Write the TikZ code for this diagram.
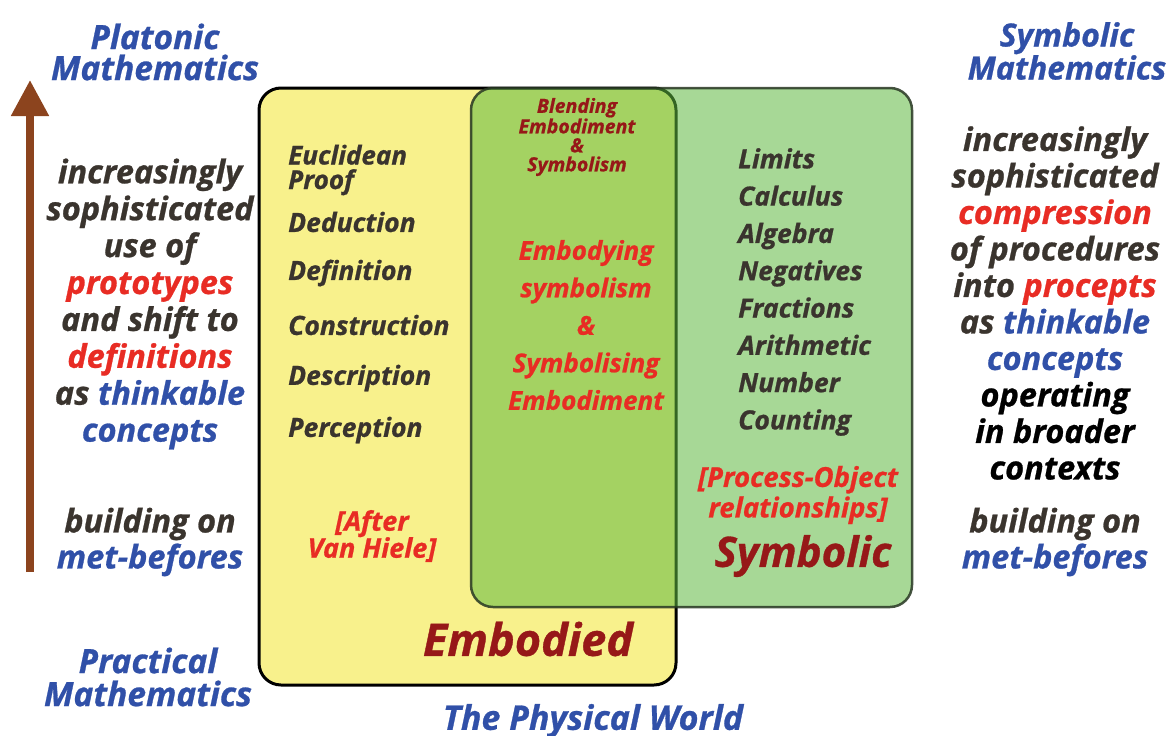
\documentclass[tikz,border=0pt]{standalone}
\usepackage{fontspec}
\setmainfont{Open Sans}[BoldItalicFeatures={FakeBold=0.8}]
\usetikzlibrary{arrows.meta}
\definecolor{txtgray}{RGB}{58,52,46}
\definecolor{txtred}{RGB}{232,44,36}
\definecolor{txtblue}{RGB}{48,80,168}
\definecolor{txtdred}{RGB}{150,24,24}
\definecolor{yelfill}{RGB}{248,241,140}
\definecolor{grnfill}{RGB}{95,185,64}
\definecolor{grnline}{RGB}{40,55,35}
\definecolor{arrbrown}{RGB}{140,68,30}
\newcommand\fsz[2]{\fontsize{#1}{#2}\selectfont\bfseries\itshape}
\tikzset{
  lbl/.style={inner sep=0pt, align=center},
  lft/.style={inner sep=0pt, align=left, anchor=west},
  setbox/.style={rounded corners=22pt, line width=3pt, inner sep=0pt}
}
\begin{document}
\begin{tikzpicture}[x=1pt,y=-1pt]
\useasboundingbox[fill=white] (0,0) rectangle (1170,736);
% boxes
\node (emb) [setbox, draw=black, fill=yelfill, minimum width=417pt, minimum height=597pt] at (467.5,386.5) {};
\node (sym) [setbox, draw=grnline, line width=2.5pt, fill=grnfill, fill opacity=0.55, draw opacity=0.85, minimum width=441pt, minimum height=519pt] at (691.5,347.5) {};
% arrow
\coordinate (abot) at (30,572);
\coordinate (atop) at (30,80);
\draw[arrbrown, line width=8pt, -{Triangle[width=36pt,length=36pt]}] (abot) -- (atop);
% titles
\node (plat) [lbl, text=txtblue, font=\fsz{33.5}{31}] at (155,52) {Platonic\\Mathematics};
\node (symm) [lbl, text=txtblue, font=\fsz{32}{31}] at (1067,51) {Symbolic\\Mathematics};
\node (prac) [lbl, text=txtblue, font=\fsz{33.5}{33}] at (148,677) {Practical\\Mathematics};
\node (phys) [lbl, text=txtblue, font=\fsz{34}{31}] at (593,721) {The Physical World};
% left column
\node (lcol) [lbl, text=txtgray, font=\fsz{32.5}{36.9}] at (150,304) {increasingly\\sophisticated\\use of\\\textcolor{txtred}{prototypes}\\and shift to\\\textcolor{txtred}{definitions}\\as \textcolor{txtblue}{thinkable}\\\textcolor{txtblue}{concepts}};
\node (lbld) [lbl, text=txtgray, font=\fsz{32.5}{36}] at (150,542) {building on\\\textcolor{txtblue}{met-befores}};
% right column
\node (rcol) [lbl, text=txtgray, font=\fsz{32.5}{36.5}] at (1055,303) {increasingly\\sophisticated\\\textcolor{txtred}{compression}\\of procedures\\into \textcolor{txtred}{procepts}\\as \textcolor{txtblue}{thinkable}\\\textcolor{txtblue}{concepts}\\\textcolor{black}{operating}\\\textcolor{black}{in broader}\\\textcolor{black}{contexts}};
\node (rbld) [lbl, text=txtgray, font=\fsz{32.5}{36}] at (1055,542) {building on\\\textcolor{txtblue}{met-befores}};
% embodied items
\node (eucl) [lft, text=txtgray, font=\fsz{26}{24.5}] at (288,170) {Euclidean\\Proof};
\node (ded) [lft, text=txtgray, font=\fsz{26.5}{22}] at (288,222) {Deduction};
\node (dfn) [lft, text=txtgray, font=\fsz{26.5}{22}] at (288,273) {Definition};
\node (con) [lft, text=txtgray, font=\fsz{26.5}{22}] at (288,325) {Construction};
\node (des) [lft, text=txtgray, font=\fsz{26.5}{22}] at (288,378) {Description};
\node (per) [lft, text=txtgray, font=\fsz{26.5}{22}] at (288,430) {Perception};
\node (vh) [lbl, text=txtred, font=\fsz{27}{27}] at (372,536) {[After\\Van Hiele]};
\node (embt) [lbl, text=txtdred, font=\fsz{45}{45}] at (528,639) {Embodied};
% blending
\node (blend) [lbl, text=txtdred, font=\fsz{19.5}{19}] at (577,137) {Blending\\Embodiment\\\&\\Symbolism};
\node (embsym) [lbl, text=txtred, font=\fsz{26}{37.5}] at (586,325) {Embodying\\symbolism\\\&\\Symbolising\\Embodiment};
% symbolic items
\node (sitems) [lft, text=txtgray, font=\fsz{26.5}{37.3}] at (738,292) {Limits\\Calculus\\Algebra\\Negatives\\Fractions\\Arithmetic\\Number\\Counting};
\node (po) [lbl, text=txtred, font=\fsz{27.5}{30.5}] at (798,495) {[Process-Object\\relationships]};
\node (symt) [lbl, text=txtdred, font=\fsz{42}{42}] at (803,556) {Symbolic};
\end{tikzpicture}
\end{document}
